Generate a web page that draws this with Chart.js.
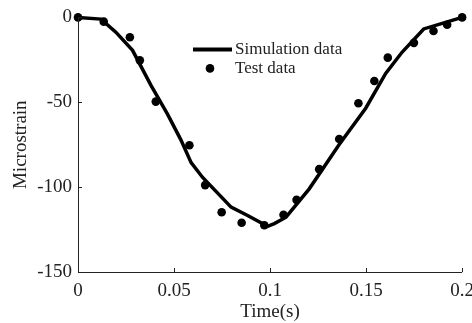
<!DOCTYPE html>
<html>
<head>
<meta charset="utf-8">
<script src="https://cdn.jsdelivr.net/npm/chart.js@4.4.1/dist/chart.umd.min.js"></script>
<style>
    body { margin: 0; overflow: hidden; background: #ffffff; }
    #wrap { width: 482px; height: 323px; }
</style>
</head>
<body>
<div id="wrap"><canvas id="strainChart" width="482" height="323"></canvas></div>
<script>
// simulation curve (time in s, microstrain)
const simTime = [0, 0.012, 0.0197, 0.0284, 0.038, 0.0466, 0.0535, 0.0589, 0.0649, 0.0797, 0.0883,
    0.0987, 0.1022, 0.1083, 0.1204, 0.136, 0.1498, 0.1602, 0.1688, 0.18, 0.1914, 0.2];
const simStrain = [0, -1, -8.7, -19.4, -40, -57, -72, -85.6, -94.3, -111.8, -116.7,
    -123.1, -121.5, -117.7, -101, -74.9, -53.5, -33, -20.4, -6.8, -2.9, 0];

// measured points
const testTime = [0, 0.0134, 0.027, 0.0322, 0.0405, 0.058, 0.0662, 0.0748, 0.0852, 0.097, 0.107,
    0.1138, 0.1256, 0.136, 0.146, 0.1543, 0.1613, 0.1749, 0.1851, 0.1922, 0.2];
const testStrain = [0, -2.5, -11.7, -25.3, -49.6, -75.3, -98.8, -114.8, -121, -122.5, -116.3,
    -107.5, -89.4, -71.6, -50.6, -37.5, -23.7, -15, -8, -4.3, 0];

const seriesNames = ['Simulation data', 'Test data'];

const FONT = '"Liberation Serif", "Times New Roman", serif';
const INK = '#222222';

function toPoints(xs, ys) {
    return xs.map((x, i) => ({ x: x, y: ys[i] }));
}

// axis lines only on left/bottom, with inward tick marks
const axisPlugin = {
    id: 'axisPlugin',
    afterDraw(chart) {
        const ctx = chart.ctx;
        const area = chart.chartArea;
        const xs = chart.scales.x;
        const ys = chart.scales.y;
        ctx.save();
        ctx.strokeStyle = INK;
        ctx.lineWidth = 1;
        ctx.beginPath();
        ctx.moveTo(area.left + 0.5, area.top);
        ctx.lineTo(area.left + 0.5, area.bottom + 0.5);
        ctx.lineTo(area.right, area.bottom + 0.5);
        xs.ticks.forEach(t => {
            const px = Math.round(xs.getPixelForValue(t.value)) + 0.5;
            ctx.moveTo(px, area.bottom);
            ctx.lineTo(px, area.bottom - 4);
        });
        ys.ticks.forEach(t => {
            const py = Math.round(ys.getPixelForValue(t.value)) + 0.5;
            ctx.moveTo(area.left, py);
            ctx.lineTo(area.left + 4, py);
        });
        ctx.stroke();
        ctx.restore();
    }
};

// legend drawn inside the plot area
const legendPlugin = {
    id: 'legendPlugin',
    afterDraw(chart) {
        const ctx = chart.ctx;
        const area = chart.chartArea;
        const lx = area.left + 115;
        const ly = area.top + 32;
        ctx.save();
        ctx.strokeStyle = '#000';
        ctx.lineWidth = 4;
        ctx.beginPath();
        ctx.moveTo(lx, ly);
        ctx.lineTo(lx + 39, ly);
        ctx.stroke();
        ctx.fillStyle = '#000';
        ctx.beginPath();
        ctx.arc(lx + 17, ly + 19, 4.3, 0, Math.PI * 2);
        ctx.fill();
        ctx.fillStyle = INK;
        ctx.font = '17px ' + FONT;
        ctx.textBaseline = 'middle';
        ctx.fillText(seriesNames[0], lx + 42, ly);
        ctx.fillText(seriesNames[1], lx + 42, ly + 19);
        ctx.restore();
    }
};

const ctx = document.getElementById('strainChart').getContext('2d');
new Chart(ctx, {
    type: 'scatter',
    data: {
        datasets: [{
            label: seriesNames[0],
            data: toPoints(simTime, simStrain),
            showLine: true,
            borderColor: '#000',
            borderWidth: 3.5,
            pointRadius: 0,
            tension: 0,
            clip: false
        }, {
            label: seriesNames[1],
            data: toPoints(testTime, testStrain),
            backgroundColor: '#000',
            borderColor: '#000',
            pointRadius: 4.3,
            borderWidth: 0,
            clip: false
        }]
    },
    options: {
        responsive: false,
        animation: false,
        devicePixelRatio: 1,
        layout: { padding: { left: 0, right: 19, top: 15, bottom: 0 } },
        plugins: {
            legend: { display: false },
            tooltip: { enabled: false }
        },
        scales: {
            x: {
                type: 'linear',
                min: 0,
                max: 0.2,
                grid: { display: false, drawTicks: false },
                border: { display: false },
                ticks: {
                    stepSize: 0.05,
                    padding: 8,
                    color: INK,
                    font: { family: FONT, size: 19 },
                    maxRotation: 0,
                    callback: v => String(+v.toFixed(4))
                },
                title: {
                    display: true,
                    text: 'Time(s)',
                    color: INK,
                    font: { family: FONT, size: 19 },
                    padding: { top: -1, bottom: 0 }
                },
                afterFit: s => { s.height = 51; }
            },
            y: {
                type: 'linear',
                min: -150,
                max: 0,
                grid: { display: false, drawTicks: false },
                border: { display: false },
                ticks: {
                    stepSize: 50,
                    padding: 6,
                    color: INK,
                    font: { family: FONT, size: 19 },
                    callback: v => String(v)
                },
                title: {
                    display: true,
                    text: 'Microstrain',
                    color: INK,
                    font: { family: FONT, size: 19 },
                    padding: { top: 10, bottom: 0 }
                },
                afterFit: s => { s.width = 78; }
            }
        }
    },
    plugins: [axisPlugin, legendPlugin]
});
</script>
</body>
</html>
